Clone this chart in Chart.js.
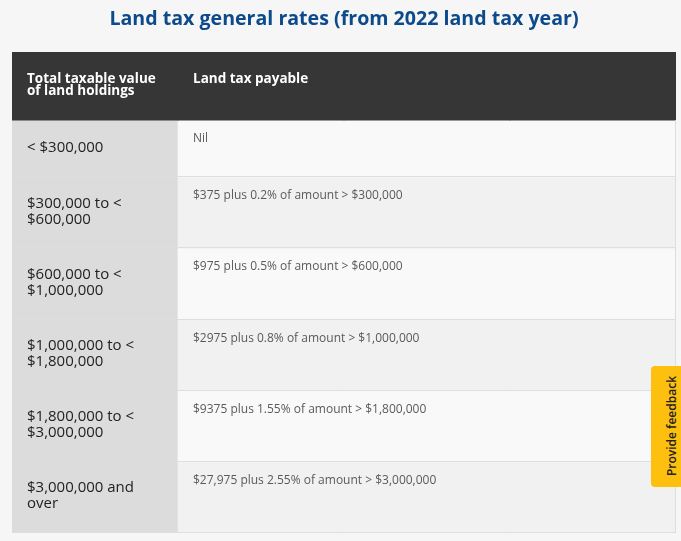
<!DOCTYPE html>
<html>
<head>
<meta charset="utf-8">
<script src="https://cdn.jsdelivr.net/npm/chart.js@4.4.1/dist/chart.umd.min.js"></script>
<style>
  html, body { margin: 0; padding: 0; background: #f6f6f6; }
  #wrap { position: relative; width: 681px; height: 541px; overflow: hidden; }
  #feedback {
    position: absolute; left: 651px; top: 366px; width: 40px; height: 121px;
    background: #fdc00f; border-radius: 4px 0 0 4px;
  }
  #feedback span {
    position: absolute; left: 20px; top: 60px; white-space: nowrap;
    transform: translate(-50%, -50%) rotate(-90deg);
    font: 600 12px "Open Sans", sans-serif; color: #222;
  }
</style>
</head>
<body>
<div id="wrap">
  <canvas id="rates"></canvas>
  <div id="feedback"><span>Provide feedback</span></div>
</div>
<script>
let title = "Land tax general rates (from 2022 land tax year)";
let headers = [["Total taxable value", "of land holdings"], ["Land tax payable"]];
let holdings = [
    ["< $300,000"],
    ["$300,000 to <", "$600,000"],
    ["$600,000 to <", "$1,000,000"],
    ["$1,000,000 to <", "$1,800,000"],
    ["$1,800,000 to <", "$3,000,000"],
    ["$3,000,000 and", "over"]
];
let payable = [
    "Nil",
    "$375 plus 0.2% of amount > $300,000",
    "$975 plus 0.5% of amount > $600,000",
    "$2975 plus 0.8% of amount > $1,000,000",
    "$9375 plus 1.55% of amount > $1,800,000",
    "$27,975 plus 2.55% of amount > $3,000,000"
];
// first column takes one slot, the payable column spans the other three
let columns = ["value", "payable", "payable", "payable"];

const FONT = "'Open Sans', sans-serif";
const headerHeight = 68;
const rowPad = 43, rowLine = 14;

// row bands on the y scale, built from how many lines each row holds
let bands = [[0, headerHeight]];
holdings.forEach(lines => {
    let top = bands[bands.length - 1][1];
    bands.push([top, top + rowPad + lines.length * rowLine]);
});
let total = bands[bands.length - 1][1];

let datasets = bands.map((band, i) => {
    let left = i === 0 ? "#363636" : "#dcdcdc";
    let right = i === 0 ? "#363636" : (i % 2 === 1 ? "#f9f9f9" : "#f1f1f1");
    return {
        data: columns.map(() => band),
        backgroundColor: columns.map((c, j) => j === 0 ? left : right),
        borderWidth: 0,
        grouped: false,
        barPercentage: 1,
        categoryPercentage: 1
    };
});

const tableText = {
    id: "tableText",
    afterDatasetsDraw(chart) {
        let ctx = chart.ctx;
        let x = chart.scales.x, y = chart.scales.y;
        let colW = x.getPixelForValue(1) - x.getPixelForValue(0);
        let col0 = x.getPixelForValue(0) - colW / 2 + 15;
        let col1 = x.getPixelForValue(1) - colW / 2 + 15;
        let area = chart.chartArea;

        ctx.save();
        // row separators and outer border
        ctx.strokeStyle = "#dedede";
        ctx.lineWidth = 1;
        for (let i = 1; i < bands.length; i++) {
            let py = Math.round(y.getPixelForValue(bands[i][1])) - 0.5;
            ctx.beginPath();
            ctx.moveTo(area.left, py);
            ctx.lineTo(area.right, py);
            ctx.stroke();
        }
        ctx.beginPath();
        ctx.moveTo(area.right - 0.5, y.getPixelForValue(bands[1][0]));
        ctx.lineTo(area.right - 0.5, area.bottom);
        ctx.stroke();

        ctx.textBaseline = "alphabetic";
        ctx.textAlign = "left";

        // header
        let hTop = y.getPixelForValue(bands[0][0]);
        ctx.fillStyle = "#ffffff";
        ctx.font = "bold 13.5px " + FONT;
        headers[0].forEach((t, k) => ctx.fillText(t, col0, hTop + 30.5 + k * 12));
        ctx.fillText(headers[1][0], col1, hTop + 30.5);

        // body rows
        holdings.forEach((lines, i) => {
            let top = y.getPixelForValue(bands[i + 1][0]);
            let bottom = y.getPixelForValue(bands[i + 1][1]);
            let mid = (top + bottom) / 2;
            ctx.fillStyle = "#222222";
            ctx.font = "15px " + FONT;
            lines.forEach((t, k) => {
                ctx.fillText(t, col0, mid + 3 - (lines.length - 1) * 8 + k * 16);
            });
            ctx.fillStyle = "#5a5a5a";
            ctx.font = "12px " + FONT;
            ctx.fillText(payable[i], col1, top + 22);
        });
        ctx.restore();
    }
};

new Chart(document.getElementById("rates"), {
    type: "bar",
    data: { labels: columns.map((c, i) => c + i), datasets: datasets },
    options: {
        responsive: true,
        maintainAspectRatio: false,
        animation: false,
        layout: { padding: { left: 12, right: 5, top: 0, bottom: 8 } },
        plugins: {
            legend: { display: false },
            tooltip: { enabled: false },
            title: {
                display: true,
                text: title,
                color: "#0c4a8b",
                font: { family: FONT, size: 19.6, weight: "bold", lineHeight: 1.2 },
                padding: { top: 7.5, bottom: 21 }
            }
        },
        scales: {
            x: { type: "category", display: false, offset: true },
            y: { type: "linear", display: false, min: 0, max: total, reverse: true }
        }
    },
    plugins: [tableText]
});
</script>
</body>
</html>
